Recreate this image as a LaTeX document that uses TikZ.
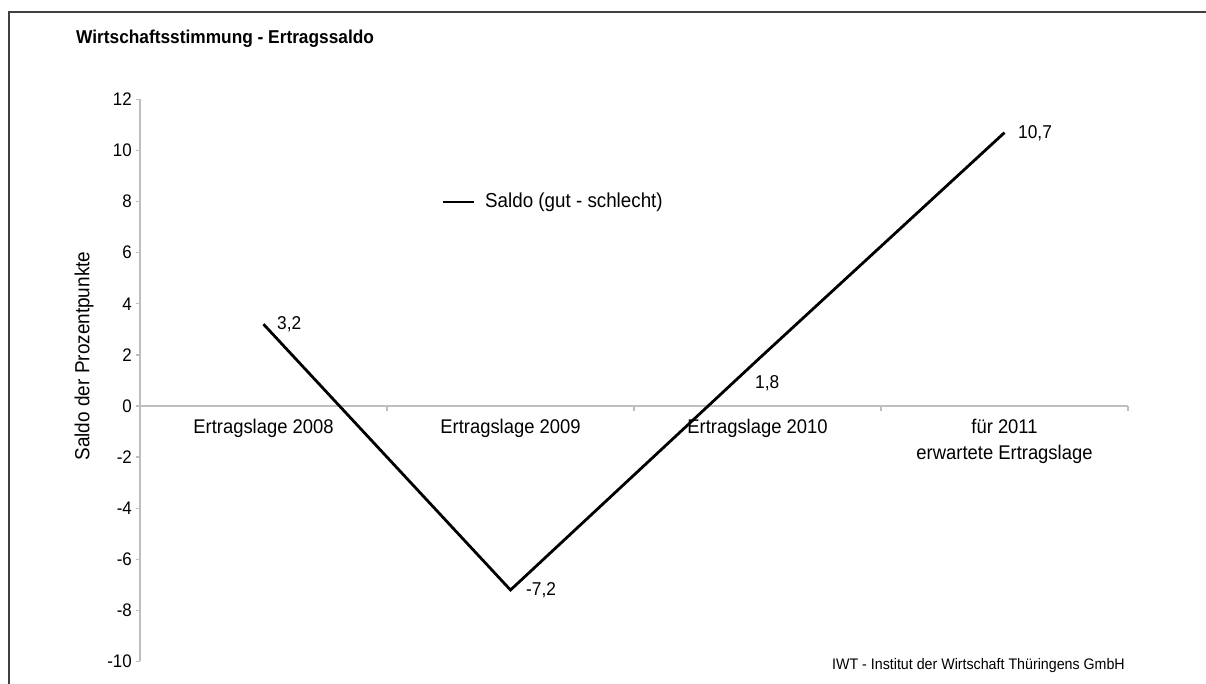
\documentclass[tikz,border=0pt]{standalone}
\usepackage{fontspec}
\setmainfont{Liberation Sans}[FakeStretch=0.93]
\definecolor{axisgray}{RGB}{190,190,190}
\definecolor{framegray}{RGB}{64,64,64}
\begin{document}
\begin{tikzpicture}[x=1pt,y=-1pt,
  frameline/.style={draw=framegray, line width=2.2pt},
  axisline/.style={draw=axisgray, line width=1.3pt},
  dataline/.style={draw=black, line width=2.8pt, line join=miter},
  txt/.style={inner sep=0pt, text=black},
  ticklbl/.style={txt, font=\fontsize{18.2}{20}\selectfont, anchor=east},
  catlbl/.style={txt, font=\fontsize{19.8}{26}\selectfont, anchor=base},
  vallbl/.style={txt, font=\fontsize{18.6}{20}\selectfont, anchor=base west},
  titlelbl/.style={txt, font=\bfseries\fontsize{18.6}{20}\selectfont, anchor=base west},
  leglbl/.style={txt, font=\fontsize{20.2}{22}\selectfont, anchor=base west},
  footlbl/.style={txt, font=\fontsize{15.3}{17}\selectfont, anchor=base west},
  ylbl/.style={txt, font=\fontsize{20.4}{22}\selectfont, rotate=90}
]
\useasboundingbox (0,0) rectangle (1206,684);
\fill[white] (0,0) rectangle (1206,684);
% frame
\draw[frameline] (9,690) -- (9,12) -- (1212,12);
% title
\node[titlelbl] (title) at (76,44) {Wirtschaftsstimmung - Ertragssaldo};
% y axis
\draw[axisline] (140,99) -- (140,661);
\foreach \v in {12,10,...,-10}{
  \draw[axisline] (135.5,{406-25.55*\v}) -- (140,{406-25.55*\v});
  \node[ticklbl] (tick\v) at (132,{406-25.55*\v}) {\v};
}
% x axis
\draw[axisline] (140,406) -- (1128,406);
\foreach \xx in {387,634,881,1128}{
  \draw[axisline] (\xx,406) -- (\xx,411);
}
% axis title
\node[ylbl] (ytitle) at (84,356) {Saldo der Prozentpunkte};
% category labels
\node[catlbl] (c1) at (263.5,433) {Ertragslage 2008};
\node[catlbl] (c2) at (510.5,433) {Ertragslage 2009};
\node[catlbl] (c3) at (757.5,433) {Ertragslage 2010};
\node[catlbl] (c4) at (1004.5,433) {\begin{tabular}[t]{@{}c@{}}für 2011\\erwartete Ertragslage\end{tabular}};
% data
\coordinate (p1) at (263.5,324.2);
\coordinate (p2) at (510.5,590.0);
\coordinate (p3) at (757.5,360.0);
\coordinate (p4) at (1004.5,132.6);
\draw[dataline] (p1) -- (p2) -- (p3) -- (p4);
\node[vallbl] (v1) at (277,329) {3,2};
\node[vallbl] (v2) at (526,595) {-7,2};
\node[vallbl] (v3) at (755,388) {1,8};
\node[vallbl] (v4) at (1018,139) {10,7};
% legend
\coordinate (la) at (443,202);
\coordinate (lb) at (473.5,202);
\draw[dataline] (la) -- (lb);
\node[leglbl] (leg) at (485,207.5) {Saldo (gut - schlecht)};
% footer
\node[footlbl] (foot) at (832,669) {IWT - Institut der Wirtschaft Thüringens GmbH};
\end{tikzpicture}
\end{document}
